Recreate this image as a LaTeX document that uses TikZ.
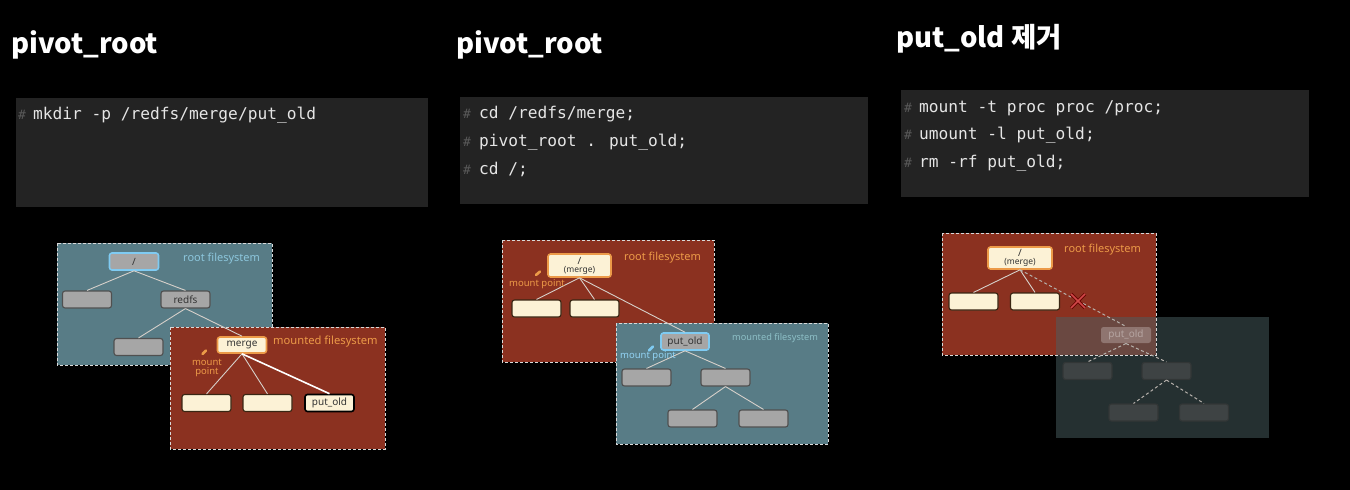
\documentclass[tikz,border=0pt]{standalone}
\usepackage{fontspec}
\usetikzlibrary{calc}
\setmainfont{Noto Sans}
\newfontfamily\titlefont{Noto Sans CJK KR}
\newfontfamily\codefont{DejaVu Sans Mono}
\definecolor{codebg}{HTML}{232323}
\definecolor{bluefs}{HTML}{587C86}
\definecolor{redfs}{HTML}{8B3120}
\definecolor{cream}{HTML}{FCF2D6}
\definecolor{orng}{HTML}{EC9A48}
\definecolor{gnode}{HTML}{A6A6A6}
\definecolor{gborder}{HTML}{505050}
\definecolor{lblue}{HTML}{7FCBF2}
\definecolor{bluetxt}{HTML}{8CC6DC}
\definecolor{tealtxt}{HTML}{8DBFC6}
\definecolor{edgec}{HTML}{D6D0CA}
\definecolor{ovlc}{HTML}{4A6062}
\definecolor{darknode}{HTML}{3E4344}
\definecolor{xred}{HTML}{D04848}
\definecolor{hashc}{HTML}{5A5A5A}
\tikzset{
  title/.style={anchor=base west, inner sep=0, text=white, font=\titlefont\bfseries\fontsize{27.5}{32}\selectfont},
  codebox/.style={fill=codebg, draw=none},
  hash/.style={anchor=base west, inner sep=0, text=hashc, font=\codefont\fontsize{13}{15}\selectfont},
  code/.style={anchor=base west, inner sep=0, text=white!90!black, font=\codefont\fontsize{16.2}{19}\selectfont},
  fsbox/.style={draw=white!85!black, dash pattern=on 3pt off 2pt, line width=1pt},
  nd/.style={rectangle, rounded corners=2.5pt, minimum width=49pt, minimum height=17pt, inner sep=0, line width=1.1pt, text=black!80, font=\fontsize{10}{11}\selectfont},
  gbox/.style={nd, fill=gnode, draw=gborder},
  cbox/.style={nd, fill=cream, draw=black!70!brown},
  obox/.style={nd, fill=cream, draw=orng, line width=1.6pt},
  bbox/.style={nd, fill=gnode, draw=lblue, line width=1.6pt},
  dbox/.style={nd, fill=darknode, draw=darknode!80!black},
  edge/.style={draw=edgec, line width=0.9pt},
  dedge/.style={draw=edgec!85!black, line width=1pt, dash pattern=on 3pt off 2.5pt},
  lbl/.style={anchor=west, inner sep=0, font=\fontsize{11}{13}\selectfont},
  small/.style={inner sep=0, font=\fontsize{9.5}{10.5}\selectfont, align=center},
  pencil/.style={line width=2.6pt, line cap=round}
}
\begin{document}
\begin{tikzpicture}[x=1pt,y=-1pt]
\fill[black] (0,0) rectangle (1350,490);
\useasboundingbox (0,0) rectangle (1350,490);

% ---------- titles ----------
\node[title] (t1) at (11,53) {pivot\_root};
\node[title] (t2) at (456,53) {pivot\_root};
\node[title] (t3) at (896,47) {put\_old 제거};

% ---------- code boxes ----------
\fill[codebox] (16,98) rectangle (428,207);
\node[hash] (h11) at (18,119) {\#};
\node[code] (c11) at (33,119) {mkdir -p /redfs/merge/put\_old};

\fill[codebox] (460,97) rectangle (868,204);
\node[hash] (h21) at (463,118) {\#};
\node[code] (c21) at (479,118) {cd /redfs/merge;};
\node[hash] (h22) at (463,146) {\#};
\node[code] (c22) at (479,146) {pivot\_root . put\_old;};
\node[hash] (h23) at (463,174) {\#};
\node[code] (c23) at (479,174) {cd /;};

\fill[codebox] (901,90) rectangle (1309,197);
\node[hash] (h31) at (904,112) {\#};
\node[code] (c31) at (919,112) {mount -t proc proc /proc;};
\node[hash] (h32) at (904,139) {\#};
\node[code] (c32) at (919,139) {umount -l put\_old;};
\node[hash] (h33) at (904,167) {\#};
\node[code] (c33) at (919,167) {rm -rf put\_old;};

% ================= Diagram 1 =================
\filldraw[fill=bluefs, fsbox] (57,243) rectangle (272,365);
\node[lbl, text=bluetxt, font=\fontsize{11}{13}\selectfont] (l1) at (183,259) {root filesystem};
\node[bbox] (p1root) at (134,261.5) {\textbf{/}};
\node[gbox] (p1a) at (87,299.5) {};
\node[gbox] (p1redfs) at (185.5,299.5) {redfs};
\node[gbox] (p1b) at (138.5,347) {};
\draw[edge] (p1root.south) -- (p1a.north);
\draw[edge] (p1root.south) -- (p1redfs.north);
\draw[edge] (p1redfs.south) -- (p1b.north);

\filldraw[fill=redfs, fsbox] (170,327) rectangle (385,449);
\node[lbl, text=orng, font=\fontsize{11.2}{13}\selectfont] (l2) at (273,342) {mounted filesystem};
\node[obox, minimum height=16pt] (p1merge) at (242,345) {merge};
\node[cbox] (p1c1) at (206.5,403) {};
\node[cbox] (p1c2) at (267.5,403) {};
\node[cbox, draw=black, line width=1.6pt, font=\fontsize{10}{11}\selectfont] (p1put) at (329.5,403) {put\_old};
\draw[edge] (p1redfs.south) -- (p1merge.north);
\draw[edge] (p1merge.south) -- (p1c1.north);
\draw[edge] (p1merge.south) -- (p1c2.north);
\draw[edge, draw=white, line width=1.6pt] (p1merge.south) -- (p1put.north);
\node[small, text=orng] (p1mp) at (207,368) {mount\\[-1pt]point};
\coordinate (p1pa) at (202.5,354);
\coordinate (p1pb) at (206,350.5);
\draw[pencil, orng] (p1pa) -- (p1pb);

% ================= Diagram 2 =================
\filldraw[fill=redfs, fsbox] (502,240) rectangle (714,362);
\node[lbl, text=orng] (l3) at (624,258) {root filesystem};
\node[obox, minimum width=63pt, minimum height=23pt, align=center] (p2root) at (579.5,265.5) {\textbf{/}\\[-3pt]{\fontsize{8.5}{9}\selectfont(merge)}};
\node[cbox] (p2c1) at (536.5,308.5) {};
\node[cbox] (p2c2) at (594.5,308.5) {};
\draw[edge] (p2root.south) -- (p2c1.north);
\draw[edge] (p2root.south) -- (p2c2.north);
\node[small, text=orng, anchor=west] (p2mp) at (509,284.5) {mount point};
\coordinate (p2pa) at (536,275);
\coordinate (p2pb) at (540,271.5);
\draw[pencil, orng] (p2pa) -- (p2pb);

\filldraw[fill=bluefs, fsbox] (616,323) rectangle (828,444);
\node[lbl, text=tealtxt, font=\fontsize{9.2}{11}\selectfont] (l4) at (732,338) {mounted filesystem};
\node[bbox, minimum width=48pt] (p2put) at (685,341.5) {put\_old};
\node[gbox] (p2g1) at (646.5,377.5) {};
\node[gbox] (p2g2) at (725.5,377.5) {};
\node[gbox] (p2g3) at (692.5,418.5) {};
\node[gbox] (p2g4) at (763.5,418.5) {};
\draw[edge] (p2root.south) -- (p2put.north);
\draw[edge] (p2put.south) -- (p2g1.north);
\draw[edge] (p2put.south) -- (p2g2.north);
\draw[edge] (p2g2.south) -- (p2g3.north);
\draw[edge] (p2g2.south) -- (p2g4.north);
\node[small, text=lblue!85!white, anchor=west] (p2mp2) at (620,356.5) {mount point};
\coordinate (p2qa) at (649,350.5);
\coordinate (p2qb) at (653,346.5);
\draw[pencil, lblue] (p2qa) -- (p2qb);

% ================= Diagram 3 =================
\fill[redfs] (942,233) rectangle (1156,355);
\fill[ovlc, fill opacity=0.5] (1056,317) rectangle (1269,438);
\draw[fsbox] (942,233) rectangle (1156,355);
\node[lbl, text=orng] (l5) at (1064,250) {root filesystem};
\node[obox, minimum width=64pt, minimum height=22pt, align=center] (p3root) at (1020,258) {\textbf{/}\\[-3pt]{\fontsize{8.5}{9}\selectfont(merge)}};
\node[cbox] (p3c1) at (973.5,301.5) {};
\node[cbox] (p3c2) at (1035,301.5) {};
\draw[edge] (p3root.south) -- (p3c1.north);
\draw[edge] (p3root.south) -- (p3c2.north);
\node[nd, minimum width=50pt, minimum height=16pt, fill=white, fill opacity=0.25, draw=none, text opacity=0.35, text=white] (p3put) at (1126,335) {put\_old};
\node[dbox] (p3d1) at (1087.5,371) {};
\node[dbox] (p3d2) at (1166.5,371) {};
\node[dbox] (p3d3) at (1133.5,412.5) {};
\node[dbox] (p3d4) at (1204,412.5) {};
\draw[dedge] (p3root.south) -- (p3put.north);
\draw[dedge] (p3put.south) -- (p3d1.north);
\draw[dedge] (p3put.south) -- (p3d2.north);
\draw[dedge] (p3d2.south) -- (p3d3.north);
\draw[dedge] (p3d2.south) -- (p3d4.north);
\coordinate (p3x) at (1078,301);
\draw[line width=3.2pt, draw=black!60!red] ($(p3x)+(-7,-7)$) -- ($(p3x)+(7,7)$) ($(p3x)+(-7,7)$) -- ($(p3x)+(7,-7)$);
\draw[line width=1.6pt, draw=xred] ($(p3x)+(-7,-7)$) -- ($(p3x)+(7,7)$) ($(p3x)+(-7,7)$) -- ($(p3x)+(7,-7)$);
\end{tikzpicture}
\end{document}
